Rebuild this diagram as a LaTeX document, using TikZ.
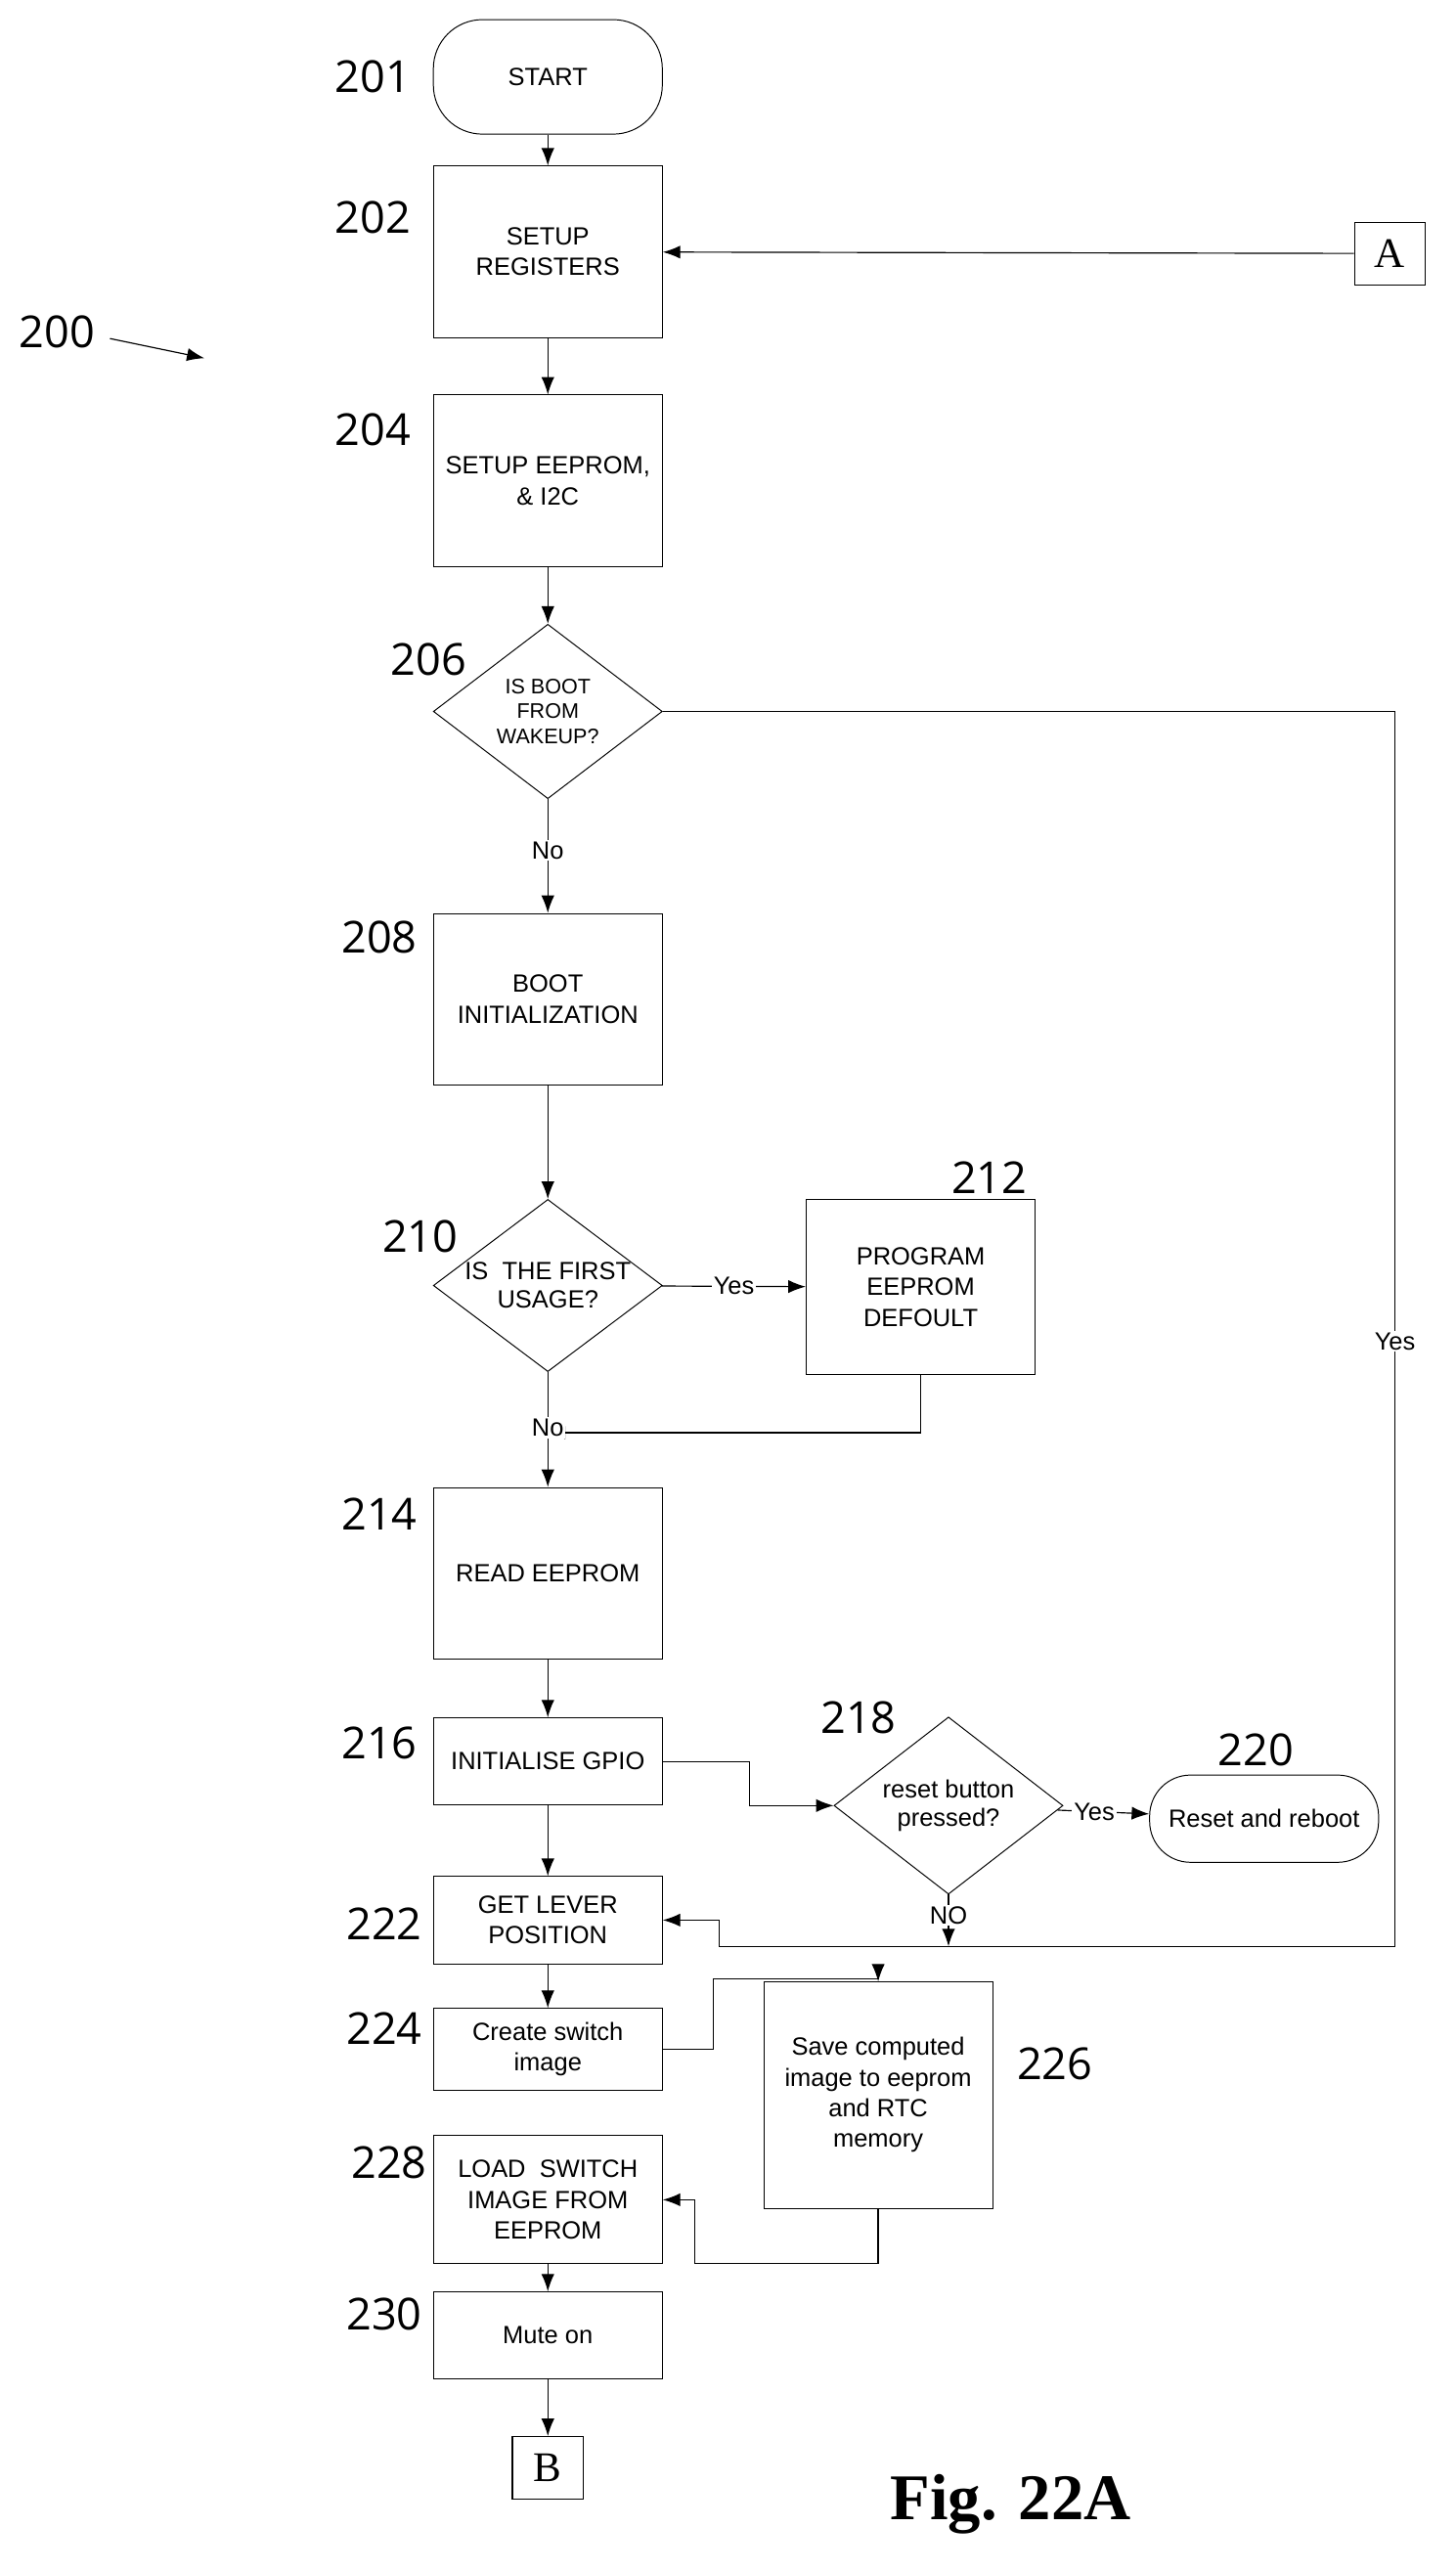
\documentclass[tikz,border=0pt]{standalone}
\usepackage{fontspec}
\setmainfont{Liberation Sans}
\newfontfamily\numfont{Open Sans}
\newfontfamily\figfont{Liberation Serif}
\usetikzlibrary{shapes.geometric,arrows.meta}
\tikzset{
  box/.style={draw, line width=0.5pt, minimum width=4.2cm, align=center, font=\fontsize{13}{16}\selectfont},
  term/.style={box, rounded corners=0.9cm},
  dec/.style={draw, diamond, aspect=1.32, inner sep=0pt, line width=0.5pt, align=center, font=\fontsize{11}{13}\selectfont},
  conn/.style={draw, line width=0.6pt, minimum width=1.3cm, minimum height=1.15cm, font=\figfont\fontsize{22}{24}\selectfont},
  num/.style={font=\numfont\fontsize{23}{26}\selectfont},
  flow/.style={-{Latex[length=3.2mm,width=2.4mm]}, line width=0.6pt},
  lab/.style={fill=white, inner sep=1pt, font=\fontsize{13}{15}\selectfont},
}
\begin{document}
\begin{tikzpicture}[x=0.03cm, y=-0.03cm]
  \useasboundingbox (0,0) rectangle (890,1572);
  % steps
  \node[term, minimum height=2.1cm] (start) at (335,47) {START};
  \node[box, minimum height=3.15cm] (s202) at (335,154) {SETUP\\REGISTERS};
  \node[conn] (A) at (850,155) {A};
  \node[box, minimum height=3.15cm] (s204) at (335,294) {SETUP EEPROM,\\\& I2C};
  \node[dec, minimum width=4.2cm, minimum height=3.2cm] (d206) at (335,435) {IS BOOT\\FROM\\WAKEUP?};
  \node[box, minimum height=3.15cm] (s208) at (335,611) {BOOT\\INITIALIZATION};
  \node[dec, minimum width=4.2cm, minimum height=3.15cm, font=\fontsize{13}{15}\selectfont] (d210) at (335,786) {IS~ THE FIRST\\USAGE?};
  \node[box, minimum height=3.2cm] (s212) at (563,787) {PROGRAM\\EEPROM\\DEFOULT};
  \node[box, minimum height=3.15cm] (s214) at (335,962) {READ EEPROM};
  \node[box, minimum height=1.6cm] (s216) at (335,1077) {INITIALISE GPIO};
  \node[dec, minimum width=4.2cm, minimum height=3.25cm, font=\fontsize{13}{15}\selectfont] (d218) at (580,1104) {reset button\\pressed?};
  \node[term, minimum height=1.6cm, rounded corners=0.75cm] (s220) at (773,1112) {Reset and reboot};
  \node[box, minimum height=1.6cm] (s222) at (335,1174) {GET LEVER\\POSITION};
  \node[box, minimum height=1.5cm] (s224) at (335,1253) {Create switch\\image};
  \node[box, minimum height=4.15cm] (s226) at (537,1281) {Save computed\\image to eeprom\\and RTC\\memory};
  \node[box, minimum height=2.35cm] (s228) at (335,1345) {LOAD~ SWITCH\\IMAGE FROM\\EEPROM};
  \node[box, minimum height=1.6cm] (s230) at (335,1428) {Mute on};
  \node[conn] (B) at (335,1509) {B};
  % reference numbers
  \node[num] (n201) at (228,47) {201};
  \node[num] (n202) at (228,133) {202};
  \node[num] (n200) at (35,203) {200};
  \node[num] (n204) at (228,263) {204};
  \node[num] (n206) at (262,403) {206};
  \node[num] (n208) at (232,573) {208};
  \node[num] (n210) at (257,756) {210};
  \node[num] (n212) at (605,720) {212};
  \node[num] (n214) at (232,926) {214};
  \node[num] (n216) at (232,1066) {216};
  \node[num] (n218) at (525,1050) {218};
  \node[num] (n220) at (768,1070) {220};
  \node[num] (n222) at (235,1176) {222};
  \node[num] (n224) at (235,1240) {224};
  \node[num] (n226) at (645,1262) {226};
  \node[num] (n228) at (238,1322) {228};
  \node[num] (n230) at (235,1415) {230};
  \node[font=\figfont\bfseries\fontsize{34}{36}\selectfont] (fig) at (618,1531) {Fig. 22A};
  \coordinate (p200) at (125,219);
  \draw[flow] (n200.east) ++(5,4) -- (p200);
  % connectors
  \draw[flow] (start) -- (s202);
  \draw[flow] (A) -- (s202);
  \draw[flow] (s202) -- (s204);
  \draw[flow] (s204) -- (d206);
  \draw[flow] (d206) -- node[lab, pos=0.45] {No} (s208);
  \draw[flow] (s208) -- (d210);
  \draw[flow] (d210) -- node[lab] {Yes} (s212);
  \coordinate (j210) at (335,876);
  \draw[flow] (s212.south) |- (j210);
  \draw[flow] (d210) -- (s214);
  \node[lab] (no210) at (335,873) {No};
  \draw[flow] (s214) -- (s216);
  \draw[flow] (s216) -- (s222);
  \draw[flow] (s216.east) -- ++(53,0) |- (d218.west);
  \draw[flow] (d218) -- node[lab, pos=0.4] {Yes} (s220);
  \coordinate (e218) at (580,1190);
  \draw[flow] (d218.south) -- node[lab, pos=0.4] {NO} (e218);
  \draw[flow] (d206.east) -| (853,1190) -- (440,1190) |- (s222.east);
  \node[lab] (yes206) at (853,820) {Yes};
  \draw[flow] (s222) -- (s224);
  \draw[flow] (s224.east) -- ++(31,0) |- (537,1210) -- (s226.north);
  \draw[flow] (s226.south) |- (425,1384) |- (s228.east);
  \draw[flow] (s228) -- (s230);
  \draw[flow] (s230) -- (B);
\end{tikzpicture}
\end{document}
